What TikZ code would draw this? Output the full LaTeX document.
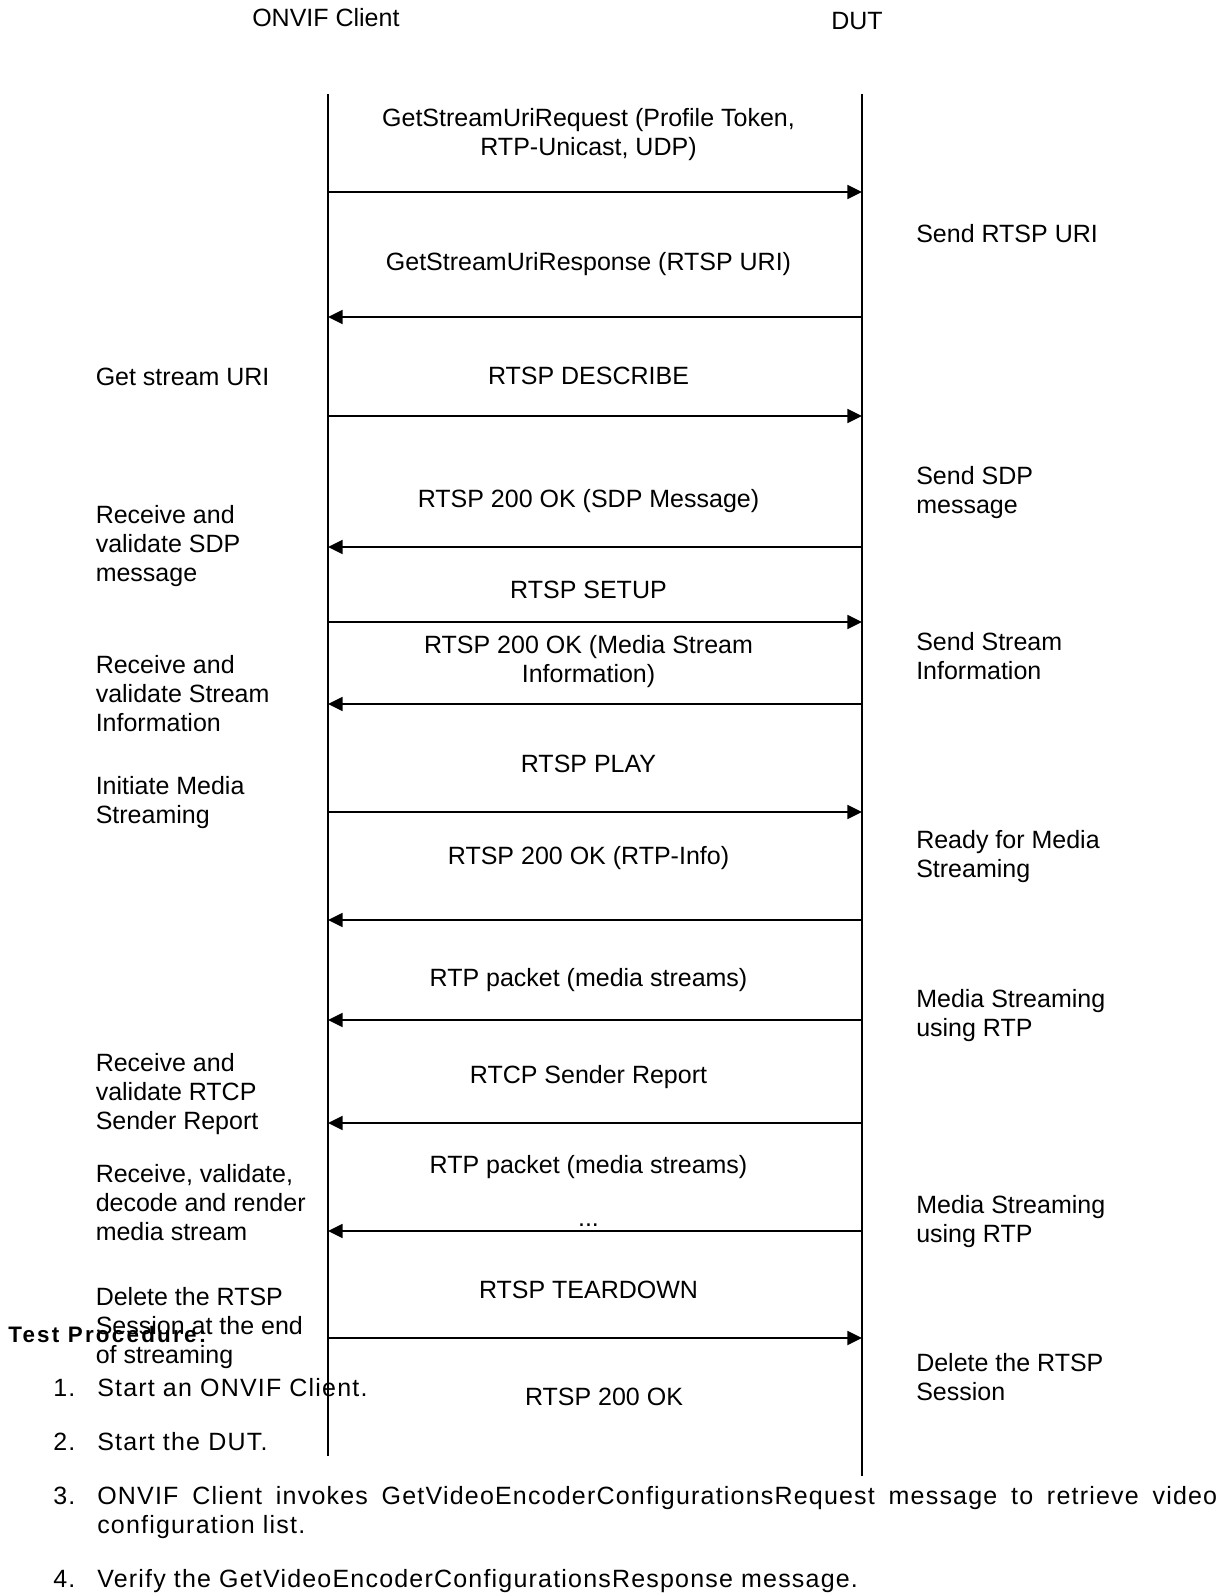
\documentclass[tikz,border=0pt]{standalone}
\usepackage{fontspec}
\setmainfont{Liberation Sans}
\newfontfamily\headfont[LetterSpace=10]{Liberation Sans}
\newfontfamily\itemfont[LetterSpace=4.8]{Liberation Sans}
\usepackage{tikz}
\usetikzlibrary{arrows.meta, positioning}
\newcommand{\diagfont}{\fontsize{18.75pt}{21.4pt}\selectfont}
\newcommand{\headsize}{\headfont\bfseries\fontsize{16.8pt}{20pt}\selectfont}
\newcommand{\itemsize}{\itemfont\fontsize{18.75pt}{21.75pt}\selectfont}

\begin{document}
\begin{tikzpicture}[x=0.75pt, y=-0.75pt, >={Triangle[length=11pt, width=10.5pt]}]
\tikzstyle{life}=[line width=1.4pt]
\tikzstyle{msg}=[->, line width=1.3pt]
\tikzstyle{lbl}=[font=\diagfont, align=center, anchor=base, inner sep=0pt]
\tikzstyle{note}=[font=\diagfont, align=left, anchor=base west, inner sep=0pt]
\tikzstyle{proc}=[font=\itemsize, anchor=base west, inner sep=0pt]

\useasboundingbox (0,0) rectangle (1231,1594);

% heads
\node[note]	(client)	at (252,27)	{ONVIF Client};
\node[note]	(dut)		at (831,30)	{DUT};

% lifelines
\coordinate (cT) at (328,94);
\coordinate (cB) at (328,1456);
\coordinate (dT) at (862,94);
\coordinate (dB) at (862,1476);
\draw[life] (cT) -- (cB);
\draw[life] (dT) -- (dB);

\foreach \n/\y in {1/192, 2/317, 3/416, 4/547, 5/622, 6/704, 7/812, 8/920, 9/1020, 10/1123, 11/1231, 12/1338}
	{\coordinate (c\n) at (328,\y); \coordinate (d\n) at (862,\y);}

% messages (multi-line: y is the last baseline)
\node[lbl]	(m1)	at (588.5,155.5)	{GetStreamUriRequest (Profile Token,\\RTP-Unicast, UDP)};
\node[lbl]	(m2)	at (588.5,271)	{GetStreamUriResponse (RTSP URI)};
\node[lbl]	(m3)	at (588.5,384)	{RTSP DESCRIBE};
\node[lbl]	(m4)	at (588.5,507)	{RTSP 200 OK (SDP Message)};
\node[lbl]	(m5)	at (588.5,598)	{RTSP SETUP};
\node[lbl]	(m6)	at (588.5,682)	{RTSP 200 OK (Media Stream\\Information)};
\node[lbl]	(m7)	at (588.5,772)	{RTSP PLAY};
\node[lbl]	(m8)	at (588.5,864)	{RTSP 200 OK (RTP-Info)};
\node[lbl]	(m9)	at (588.5,986)	{RTP packet (media streams)};
\node[lbl]	(m10)	at (588.5,1083)	{RTCP Sender Report};
\node[lbl]	(m11)	at (588.5,1173)	{RTP packet (media streams)};
\node[lbl]	(dots)	at (588.5,1226)	{...};
\node[lbl]	(m12)	at (588.5,1298)	{RTSP TEARDOWN};
\node[lbl]	(m13)	at (604,1405)	{RTSP 200 OK};

\path[msg]
(c1) edge (d1)
(d2) edge (c2)
(c3) edge (d3)
(d4) edge (c4)
(c5) edge (d5)
(d6) edge (c6)
(c7) edge (d7)
(d8) edge (c8)
(d9) edge (c9)
(d10) edge (c10)
(d11) edge (c11)
(c12) edge (d12);

% client side
\node[note]	(n1)	at (95.5,385)	{Get stream URI};
\node[note]	(n2)	at (95.5,581)	{Receive and\\validate SDP\\message};
\node[note]	(n3)	at (95.5,731)	{Receive and\\validate Stream\\Information};
\node[note]	(n4)	at (95.5,823.5)	{Initiate Media\\Streaming};
\node[note]	(n5)	at (95.5,1129)	{Receive and\\validate RTCP\\Sender Report};
\node[note]	(n6)	at (95.5,1240)	{Receive, validate,\\decode and render\\media stream};
\node[note]	(n7)	at (95.5,1363)	{Delete the RTSP\\Session at the end\\of streaming};

% DUT side
\node[note]	(r1)	at (916,243)	{Send RTSP URI};
\node[note]	(r2)	at (916,513.5)	{Send SDP\\message};
\node[note]	(r3)	at (916,679.5)	{Send Stream\\Information};
\node[note]	(r4)	at (916,877.5)	{Ready for Media\\Streaming};
\node[note]	(r5)	at (916,1036.5)	{Media Streaming\\using RTP};
\node[note]	(r6)	at (916,1242.5)	{Media Streaming\\using RTP};
\node[note]	(r7)	at (916,1400.5)	{Delete the RTSP\\Session};

% procedure
\node[proc, font=\headsize]	(tp)	at (8,1342)	{Test Procedure:};
\node[proc]	(k1)	at (53,1396.5)	{1.};
\node[proc]	(s1)	at (97,1396.5)	{Start an ONVIF Client.};
\node[proc]	(k2)	at (53,1450.5)	{2.};
\node[proc]	(s2)	at (97,1450.5)	{Start the DUT.};
\node[proc]	(k3)	at (53,1504)	{3.};
\node[proc, text width=840pt, align=justify]	(s3)	at (97,1504)	{ONVIF Client invokes GetVideoEncoderConfigurationsRequest message to retrieve video\linebreak configuration list.};
\node[proc]	(k4)	at (53,1587)	{4.};
\node[proc]	(s4)	at (97,1587)	{Verify the GetVideoEncoderConfigurationsResponse message.};

\end{tikzpicture}
\end{document}
